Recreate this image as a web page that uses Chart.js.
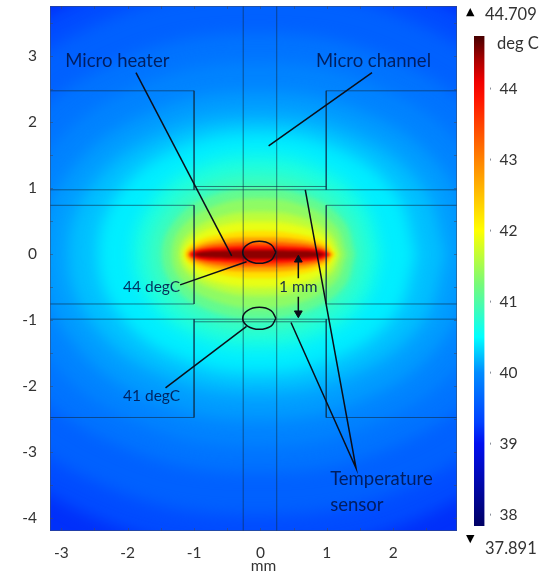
<!DOCTYPE html>
<html>
<head>
<meta charset="utf-8">
<script src="https://cdn.jsdelivr.net/npm/chart.js@4"></script>
<style>
  html, body { margin: 0; background: #fff; }
  canvas { position: absolute; top: 0; }
  #field { left: 0; }
  #colorbar { left: 460px; }
</style>
</head>
<body>
<canvas id="field" width="546" height="573"></canvas>
<canvas id="colorbar" width="86" height="573"></canvas>
<script>
const xTicks = [-3, -2, -1, 0, 1, 2];
const yTicks = [-4, -3, -2, -1, 0, 1, 2, 3];
const xMinorTicks = [-3, -2.5, -2, -1.5, -1, -0.5, 0, 0.5, 1, 1.5, 2, 2.5];
const yMinorTicks = [-4, -3.5, -3, -2.5, -2, -1.5, -1, -0.5, 0, 0.5, 1, 1.5, 2, 2.5, 3, 3.5];
const barTicks = [38, 39, 40, 41, 42, 43, 44];
const barRange = [37.84, 44.74];

// colour scale: [deg C, r, g, b]
const colorStops = [
  [37.84, 0, 0, 100], [39, 0, 15, 240], [39.3, 0, 65, 255], [40, 0, 140, 255],
  [40.5, 0, 255, 255], [41.25, 120, 250, 120], [42, 255, 255, 0], [43, 255, 130, 0],
  [43.85, 255, 20, 0], [44.1, 240, 0, 0], [44.4, 170, 0, 0], [44.74, 70, 0, 0]
];

// isotherms, coldest first, in mm
const levels = [39.1, 39.3, 39.5, 39.7, 39.85, 40, 40.15, 40.3, 40.55, 40.8, 41, 41.25, 41.5, 41.75, 42, 42.5, 43, 43.5, 43.93, 44.3];
const isotherms = [
  [[9,9],[-9,9],[-9,-9],[9,-9],[9,9]],
  [[5.35,0],[4.65,2.2],[2.65,3.83],[-.05,4.4],[-2.75,3.83],[-4.75,2.2],[-5.45,0],[-4.75,-2.22],[-2.75,-3.87],[-.05,-4.45],[2.65,-3.87],[4.65,-2.22],[5.35,0]],
  [[4.85,0],[4.21,2],[2.4,3.48],[-.05,4],[-2.5,3.48],[-4.31,2],[-4.95,0],[-4.31,-1.98],[-2.5,-3.44],[-.05,-3.95],[2.4,-3.44],[4.21,-1.98],[4.85,0]],
  [[4.2,0],[3.64,1.68],[2.08,2.91],[-.05,3.35],[-2.18,2.91],[-3.74,1.68],[-4.3,0],[-3.74,-1.65],[-2.18,-2.87],[-.05,-3.3],[2.08,-2.87],[3.64,-1.65],[4.2,0]],
  [[3.65,0],[3.17,1.45],[1.8,2.52],[-.05,2.9],[-1.9,2.52],[-3.27,1.45],[-3.75,0],[-3.27,-1.45],[-1.9,-2.52],[-.05,-2.9],[1.8,-2.52],[3.17,-1.45],[3.65,0]],
  [[3.2,0],[2.78,1.23],[1.58,2.13],[-.05,2.45],[-1.68,2.13],[-2.88,1.23],[-3.3,0],[-2.88,-1.25],[-1.68,-2.18],[-.05,-2.5],[1.58,-2.18],[2.78,-1.25],[3.2,0]],
  [[2.8,0],[2.43,1.05],[1.38,1.83],[-.05,2.1],[-1.48,1.83],[-2.53,1.05],[-2.9,0],[-2.53,-1.05],[-1.48,-1.83],[-.05,-2.1],[1.38,-1.83],[2.43,-1.05],[2.8,0]],
  [[2.35,0],[2.04,.93],[1.15,1.61],[-.05,1.85],[-1.25,1.61],[-2.14,.93],[-2.45,0],[-2.14,-.9],[-1.25,-1.57],[-.05,-1.8],[1.15,-1.57],[2.04,-.9],[2.35,0]],
  [[1.82,0],[1.58,.75],[.89,1.31],[-.05,1.5],[-.99,1.31],[-1.68,.75],[-1.92,0],[-1.68,-.71],[-.99,-1.24],[-.05,-1.42],[.89,-1.24],[1.58,-.71],[1.82,0]],
  [[1.55,0],[1.34,.6],[.75,1.04],[-.05,1.2],[-.85,1.04],[-1.44,.6],[-1.65,0],[-1.44,-.58],[-.85,-1],[-.05,-1.15],[.75,-1],[1.34,-.58],[1.55,0]],
  [[1.42,0],[1.25,.5],[.72,.87],[-.03,1],[-.78,.87],[-1.29,.5],[-1.48,0],[-1.29,-.49],[-.78,-.84],[-.03,-.97],[.72,-.84],[1.25,-.49],[1.42,0]],
  [[1.3,0],[1.13,.43],[.65,.74],[-.02,.85],[-.68,.74],[-1.17,.43],[-1.34,0],[-1.17,-.41],[-.68,-.71],[-.02,-.82],[.65,-.71],[1.13,-.41],[1.3,0]],
  [[1.21,0],[1.05,.33],[.6,.57],[-.01,.65],[-.62,.57],[-1.07,.33],[-1.23,0],[-1.07,-.32],[-.62,-.55],[-.01,-.63],[.6,-.55],[1.05,-.32],[1.21,0]],
  [[1.15,0],[1,.25],[.57,.44],[-.01,.5],[-.59,.44],[-1.02,.25],[-1.17,0],[-1.02,-.25],[-.59,-.44],[-.01,-.5],[.57,-.44],[1,-.25],[1.15,0]],
  [[1.12,0],[.97,.18],[.55,.31],[-.01,.36],[-.57,.31],[-.99,.18],[-1.14,0],[-.99,-.18],[-.57,-.31],[-.01,-.36],[.55,-.31],[.97,-.18],[1.12,0]],
  [[1.09,0],[.95,.13],[.54,.23],[-.01,.26],[-.56,.23],[-.97,.13],[-1.11,0],[-.97,-.13],[-.56,-.23],[-.01,-.26],[.54,-.23],[.95,-.13],[1.09,0]],
  [[1.06,0],[.92,.1],[.52,.17],[-.01,.19],[-.54,.17],[-.94,.1],[-1.08,0],[-.94,-.1],[-.54,-.17],[-.01,-.19],[.52,-.17],[.92,-.1],[1.06,0]],
  [[1.04,0],[.9,.07],[.51,.12],[-.01,.14],[-.53,.12],[-.92,.07],[-1.06,0],[-.92,-.07],[-.53,-.12],[-.01,-.14],[.51,-.12],[.9,-.07],[1.04,0]],
  [[1.02,0],[.89,.06],[.5,.09],[-.01,.1],[-.52,.09],[-.91,.06],[-1.04,0],[-.91,-.06],[-.52,-.09],[-.01,-.1],[.5,-.09],[.89,-.06],[1.02,0]],
  [[.97,0],[.84,.04],[.48,.057],[-.01,.065],[-.5,.057],[-.86,.04],[-.99,0],[-.86,-.04],[-.5,-.057],[-.01,-.065],[.48,-.057],[.84,-.04],[.97,0]]
];

// device outline in mm
const deviceLines = [
  [[-.26,-5],[-.26,5]], [[.245,-5],[.245,5]],
  [[-4,.98],[3,.98]], [[-1,1.03],[.99,1.03]],
  [[-4,-.98],[3,-.98]], [[-1,-1.02],[.99,-1.02]],
  [[-4,2.48],[-1,2.48],[-1,.98]], [[3,2.48],[.99,2.48],[.99,.98]],
  [[-4,.745],[-1,.745],[-1,-.75],[-4,-.75]], [[3,.745],[.99,.745],[.99,-.75],[3,-.75]],
  [[-1,-.98],[-1,-2.47],[-4,-2.47]], [[.99,-.98],[.99,-2.47],[3,-2.47]]
];

// leader lines and the two marked spots
const leaders = [
  [[-1.875,2.755],[-.434,-.02]],
  [[1.68,2.755],[.123,1.644]],
  [[-1.21,-.46],[-.21,-.11]],
  [[-1.43,-2.02],[-.21,-1.09]],
  [[.46,-1.03],[1.44,-3.24],[.675,.98]],
  [[.57,-.06],[.57,-.36]],
  [[.57,-.64],[.57,-.91]]
];
const spots = [
  [[.232,.033],[.159,.151],[-.018,.2],[-.195,.151],[-.268,.033],[-.195,-.085],[-.018,-.134],[.159,-.085],[.232,.033]],
  [[.232,-.967],[.159,-.849],[-.018,-.8],[-.195,-.849],[-.268,-.967],[-.195,-1.085],[-.018,-1.134],[.159,-1.085],[.232,-.967]]
];
const arrowTips = [[.57,-.08],[.57,-.89]];
const arrowTurns = [0, 180];

const noteTexts = ["Micro heater", "Micro channel", "44 degC", "41 degC", "1 mm", "Temperature", "sensor"];
const noteX = [-2.94, .836, -2.07, -2.07, .28, 1.05, 1.05];
const noteY = [2.93, 2.93, -.49, -2.14, -.49, -3.4, -3.8];
const noteSizes = [18.5, 18.5, 15.5, 15.5, 15.5, 18.5, 18.5];

const FONT = "Lato, 'Open Sans', sans-serif";

function tempColor(t) {
  for (let i = 1; i < colorStops.length; i++) {
    if (t <= colorStops[i][0]) {
      const a = colorStops[i - 1], b = colorStops[i];
      const f = (t - a[0]) / (b[0] - a[0]);
      return `rgb(${a[1] + (b[1] - a[1]) * f}, ${a[2] + (b[2] - a[2]) * f}, ${a[3] + (b[3] - a[3]) * f})`;
    }
  }
  return `rgb(70, 0, 0)`;
}

function blurFor(t) {
  if (t === undefined) return "none";
  if (t < 41) return "blur(8px)";
  if (t < 42) return "blur(2.5px)";
  if (t < 43) return "blur(1.5px)";
  return "blur(0.8px)";
}

const asPoints = list => list.map(p => ({ x: p[0], y: p[1] }));

const fieldSets = isotherms.map((loop, i) => ({
  data: asPoints(loop),
  showLine: true,
  fill: "shape",
  tension: i === 0 ? 0 : 0.4,
  borderWidth: 0,
  pointRadius: 0,
  backgroundColor: tempColor((levels[i] + (levels[i + 1] || 44.7)) / 2),
  order: 100 - i,
  blurNext: blurFor(levels[i + 1])
}));

const outlineSets = deviceLines.map(line => ({
  data: asPoints(line), showLine: true, fill: false, borderColor: "rgba(15, 45, 70, 0.6)", borderWidth: 1, pointRadius: 0, order: 3
}));
const leaderSets = leaders.map(line => ({
  data: asPoints(line), showLine: true, fill: false, borderColor: "#0b0f1a", borderWidth: 1.5, pointRadius: 0, order: 2
}));
const spotSets = spots.map(loop => ({
  data: asPoints(loop), showLine: true, fill: false, tension: 0.4, borderColor: "#0b0f1a", borderWidth: 1.5, pointRadius: 0, order: 2
}));
const arrowSet = {
  data: asPoints(arrowTips), showLine: false, pointStyle: "triangle", pointRadius: 4.5,
  pointRotation: arrowTurns, backgroundColor: "#0b0f1a", borderColor: "#0b0f1a", order: 1
};

// lets the isotherm bands melt together, like the shaded original
const heatBlur = {
  id: "heatBlur",
  beforeDatasetsDraw(chart) { chart.ctx.filter = blurFor(levels[0]); },
  afterDatasetDraw(chart, args) {
    const next = chart.data.datasets[args.index].blurNext;
    if (next) chart.ctx.filter = next;
  }
};

const fieldNotes = {
  id: "fieldNotes",
  afterDatasetsDraw(chart) {
    const { ctx, scales: { x, y }, chartArea: a } = chart;
    ctx.save();
    ctx.filter = "none";
    ctx.strokeStyle = "rgba(60, 75, 100, 0.55)";
    ctx.lineWidth = 1;
    ctx.beginPath();
    xMinorTicks.forEach(v => {
      const p = Math.round(x.getPixelForValue(v)) + 0.5;
      ctx.moveTo(p, a.top); ctx.lineTo(p, a.top + 3);
      ctx.moveTo(p, a.bottom); ctx.lineTo(p, a.bottom - 3);
    });
    yMinorTicks.forEach(v => {
      const p = Math.round(y.getPixelForValue(v)) + 0.5;
      ctx.moveTo(a.left, p); ctx.lineTo(a.left + 3, p);
      ctx.moveTo(a.right, p); ctx.lineTo(a.right - 3, p);
    });
    ctx.stroke();
    ctx.strokeRect(a.left + 0.5, a.top + 0.5, a.width - 1, a.height - 1);
    ctx.fillStyle = "rgba(0, 20, 75, 0.88)";
    ctx.textAlign = "left";
    ctx.textBaseline = "middle";
    noteTexts.forEach((t, i) => {
      ctx.font = `${noteSizes[i]}px ${FONT}`;
      ctx.fillText(t, x.getPixelForValue(noteX[i]), y.getPixelForValue(noteY[i]));
    });
    ctx.fillStyle = "#333";
    ctx.font = `15.5px ${FONT}`;
    ctx.textAlign = "center";
    ctx.fillText("mm", 263.5, 566);
    ctx.restore();
  }
};

new Chart("field", {
  type: "scatter",
  data: { datasets: [...fieldSets, ...outlineSets, ...leaderSets, ...spotSets, arrowSet] },
  plugins: [heatBlur, fieldNotes],
  options: {
    responsive: false,
    animation: false,
    events: [],
    layout: { padding: { left: 0, right: 89, top: 6, bottom: 0 } },
    plugins: { legend: { display: false }, tooltip: { enabled: false } },
    scales: {
      x: {
        min: -3.17, max: 2.96,
        afterFit: s => { s.height = 42; s.paddingLeft = 0; s.paddingRight = 0; },
        afterBuildTicks: s => { s.ticks = xTicks.map(v => ({ value: v })); },
        grid: { display: false, drawTicks: false },
        border: { display: false },
        ticks: { color: "#333", font: { family: FONT, size: 15.5 }, padding: 13, maxRotation: 0 }
      },
      y: {
        min: -4.19, max: 3.765,
        afterFit: s => { s.width = 50; s.paddingTop = 0; s.paddingBottom = 0; },
        afterBuildTicks: s => { s.ticks = yTicks.map(v => ({ value: v })); },
        grid: { display: false, drawTicks: false },
        border: { display: false },
        ticks: { color: "#333", font: { family: FONT, size: 15.5 }, padding: 13 }
      }
    }
  }
});

const barNotes = {
  id: "barNotes",
  afterDraw(chart) {
    const { ctx, scales: { y } } = chart;
    ctx.save();
    ctx.fillStyle = "#8a8f99";
    barTicks.forEach(v => ctx.fillRect(30, y.getPixelForValue(v) - 1, 1, 2));
    ctx.fillStyle = "#333";
    ctx.textBaseline = "middle";
    ctx.font = `16.5px ${FONT}`;
    ctx.fillText("44.709", 25, 15);
    ctx.fillText("37.891", 25, 549);
    ctx.fillText("deg C", 37, 44);
    ctx.fillStyle = "#000";
    ctx.font = "11px 'DejaVu Sans'";
    ctx.fillText("\u25B2", 6, 12);
    ctx.fillText("\u25BC", 6, 539);
    ctx.restore();
  }
};

new Chart("colorbar", {
  type: "bar",
  data: {
    labels: [""],
    datasets: [{
      data: [barRange],
      barPercentage: 1,
      categoryPercentage: 1,
      backgroundColor(c) {
        const { chart } = c;
        if (!chart.chartArea) return "#000";
        const y = chart.scales.y;
        const g = chart.ctx.createLinearGradient(0, y.getPixelForValue(barRange[0]), 0, y.getPixelForValue(barRange[1]));
        colorStops.forEach(s => g.addColorStop((s[0] - barRange[0]) / (barRange[1] - barRange[0]), `rgb(${s[1]}, ${s[2]}, ${s[3]})`));
        return g;
      }
    }]
  },
  plugins: [barNotes],
  options: {
    responsive: false,
    animation: false,
    events: [],
    layout: { padding: { left: 14, top: 36, bottom: 47, right: 0 } },
    plugins: { legend: { display: false }, tooltip: { enabled: false } },
    scales: {
      x: { display: false },
      y: {
        position: "right",
        min: barRange[0], max: barRange[1],
        afterFit: s => { s.width = 61.5; s.paddingTop = 0; s.paddingBottom = 0; },
        afterBuildTicks: s => { s.ticks = barTicks.map(v => ({ value: v })); },
        grid: { display: false, drawTicks: false },
        border: { display: false },
        ticks: { color: "#333", font: { family: FONT, size: 15.5 }, padding: 15 }
      }
    }
  }
});
</script>
</body>
</html>
